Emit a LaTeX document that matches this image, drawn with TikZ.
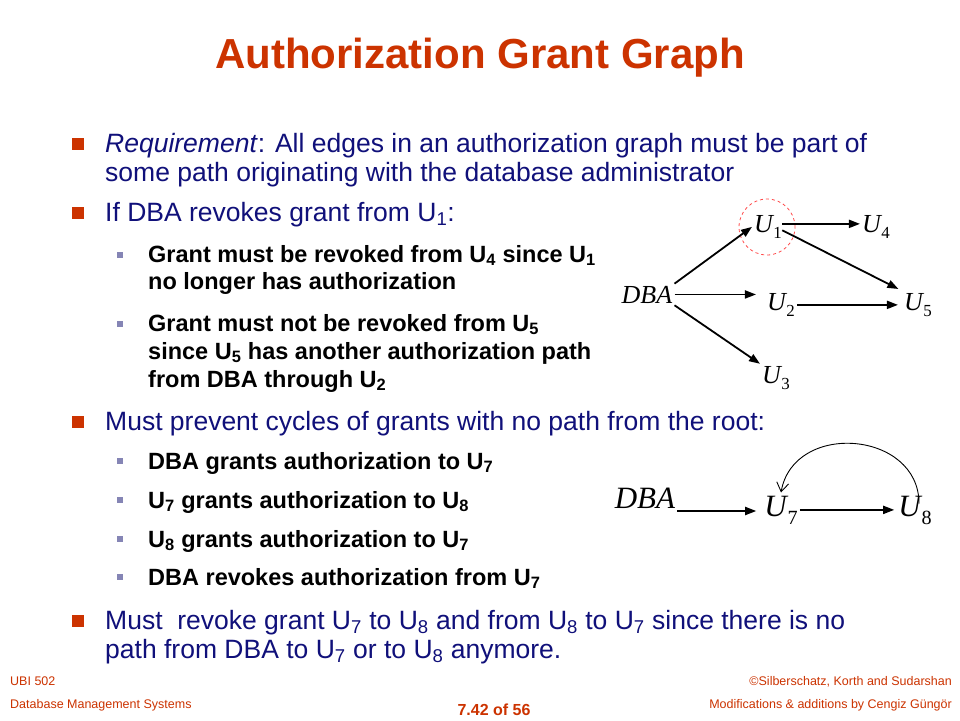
\documentclass[tikz,border=0pt]{standalone}
\usepackage{fontspec}
\usepackage{graphicx}
\setmainfont{Liberation Sans}
\newfontfamily\tms{Liberation Serif}
\usetikzlibrary{arrows.meta}
\definecolor{titlered}{HTML}{CC3300}
\definecolor{navyblue}{HTML}{10107A}
\definecolor{subgray}{HTML}{8585B5}
\newcommand{\usr}[1]{\textit{U}\kern-1pt\raisebox{-0.26em}{\scalebox{0.65}{#1}}}
\newcommand{\sbs}[1]{\textsubscript{#1}}

\begin{document}
\begin{tikzpicture}[x=1pt, y=1pt,
  every node/.style={inner sep=0pt},
  maintext/.style={anchor=base west, text=navyblue, font=\fontsize{26.5}{29}\selectfont},
  subtext/.style={anchor=base west, text=black, font=\bfseries\fontsize{23.5}{26}\selectfont},
  mainbul/.style={fill=titlered, minimum size=12pt},
  subbul/.style={fill=subgray, minimum size=6pt},
  footer/.style={text=titlered, font=\fontsize{12.5}{14}\selectfont},
  gnode/.style={inner sep=2pt, font=\tms\fontsize{26}{26}\selectfont},
  gnodeb/.style={inner sep=2pt, font=\tms\fontsize{31}{31}\selectfont},
  grant/.style={-{Triangle[length=11pt,width=8pt]}, line width=1.8pt}]
  \useasboundingbox[fill=white] (0,0) rectangle (960,-720);

  % title
  \node[anchor=base, text=titlered, font=\bfseries\fontsize{42}{42}\selectfont] (title) at (480,-68) {Authorization Grant Graph};

  % first bullet
  \node[mainbul] (b1) at (78,-144) {};
  \node[maintext] (req1) at (105,-152) {\textit{Requirement}: All edges in an authorization graph must be part of};
  \node[maintext] (req2) at (105,-181) {some path originating with the database administrator};

  \node[mainbul] (b2) at (78,-213) {};
  \node[maintext] (ifdba) at (105,-221) {If DBA revokes grant from U\sbs{1}:};
  \node[subbul] (c1) at (120,-255) {};
  \node[subtext] (s1a) at (148,-262) {Grant must be revoked from U\sbs{4} since U\sbs{1}};
  \node[subtext] (s1b) at (148,-289) {no longer has authorization};
  \node[subbul] (c2) at (120,-324) {};
  \node[subtext] (s2a) at (148,-331) {Grant must not be revoked from U\sbs{5}};
  \node[subtext] (s2b) at (148,-359) {since U\sbs{5} has another authorization path};
  \node[subtext] (s2c) at (148,-387) {from DBA through U\sbs{2}};

  \node[mainbul] (b3) at (78,-422) {};
  \node[maintext] (cyc) at (105,-430) {Must prevent cycles of grants with no path from the root:};
  \node[subbul] (c3) at (120,-461) {};
  \node[subtext] (s3) at (148,-469) {DBA grants authorization to U\sbs{7}};
  \node[subbul] (c4) at (120,-500) {};
  \node[subtext] (s4) at (148,-508) {U\sbs{7} grants authorization to U\sbs{8}};
  \node[subbul] (c5) at (120,-539) {};
  \node[subtext] (s5) at (148,-547) {U\sbs{8} grants authorization to U\sbs{7}};
  \node[subbul] (c6) at (120,-577) {};
  \node[subtext] (s6) at (148,-585) {DBA revokes authorization from U\sbs{7}};

  \node[mainbul] (b4) at (78,-621) {};
  \node[maintext] (rev1) at (105,-629) {Must\ \ revoke grant U\sbs{7} to U\sbs{8} and from U\sbs{8} to U\sbs{7} since there is no};
  \node[maintext] (rev2) at (105,-658) {path from DBA to U\sbs{7} or to U\sbs{8} anymore.};

  % first graph
  \node[gnode, anchor=base] (dba) at (647,-303) {\textit{DBA}};
  \node[gnode, anchor=base] (u1) at (768,-232) {\usr{1}};
  \node[gnode, anchor=base] (u4) at (876,-232) {\usr{4}};
  \node[gnode, anchor=base] (u2) at (781,-310) {\usr{2}};
  \node[gnode, anchor=base] (u5) at (918,-310) {\usr{5}};
  \node[gnode, anchor=base] (u3) at (776,-383) {\usr{3}};
  \draw[red!70, dashed, line width=0.8pt] (767,-227) circle (28);
  \draw[grant] (dba.north east) -- (u1.west);
  \draw[grant, shorten >=9pt] (dba.east) -- (dba.east -| u2.west);
  \draw[grant] (dba.south east) -- (u3.north west);
  \draw[grant, shorten <=-2pt] ([yshift=3pt]u1.east) -- ([yshift=3pt]u1.east -| u4.west);
  \draw[grant, shorten <=-2pt, shorten >=4pt] (u1.-15) -- (u5.north west);
  \draw[grant, shorten >=4pt] (u2.east) -- (u2.east -| u5.west);

  % second graph
  \node[gnodeb, anchor=base] (dbb) at (645,-508) {\textit{DBA}};
  \node[gnodeb, anchor=base] (u7) at (781,-516) {\usr{7}};
  \node[gnodeb, anchor=base] (u8) at (915,-516) {\usr{8}};
  \draw[grant, shorten >=6pt] ([yshift=-3pt]dbb.base east) -- ([yshift=-3pt]dbb.base east -| u7.west);
  \draw[grant, shorten >=2pt] (u7.east) -- (u7.east -| u8.west);
  \draw[-{Straight Barb[length=9pt,width=12pt]}, line width=0.9pt] ([xshift=4pt, yshift=-10pt]u8.north) to[out=90, in=80, looseness=1.35] ([yshift=1pt]u7.north);

  % footer
  \node[footer, anchor=base west] (course) at (10,-685) {UBI 502};
  \node[footer, anchor=base west] (dbms) at (10,-708) {Database Management Systems};
  \node[footer, anchor=base, font=\bfseries\fontsize{16}{16}\selectfont] (page) at (494,-715) {7.42 of 56};
  \node[footer, anchor=base east] (copy) at (952,-685) {©Silberschatz, Korth and Sudarshan};
  \node[footer, anchor=base east] (mods) at (952,-708) {Modifications \& additions by Cengiz Güngör};
\end{tikzpicture}
\end{document}
